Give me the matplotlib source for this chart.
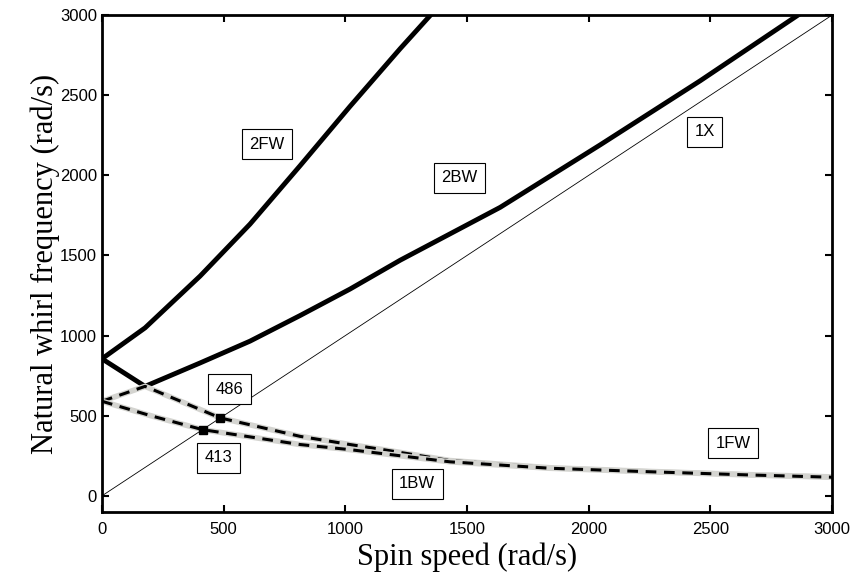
import numpy as np
import matplotlib.pyplot as plt

# spin speed / whirl frequency (rad/s)
s_2fw = [0, 177, 403, 608, 814, 1019, 1225, 1350]
f_2fw = [855, 1048, 1371, 1695, 2060, 2430, 2790, 3000]

s_2bw = [0, 177, 403, 608, 814, 1019, 1225, 1636, 2047, 2458, 2860]
f_2bw = [855, 683, 829, 965, 1125, 1290, 1470, 1800, 2190, 2590, 3000]

s_1fw = [0, 177, 486, 814, 1019, 1156, 1430, 1841, 2252, 2663, 3000]
f_1fw = [590, 683, 486, 371, 320, 288, 220, 175, 152, 132, 118]

s_1bw = [0, 200, 413, 814, 1019, 1430, 1841, 2252, 2663, 3000]
f_1bw = [590, 500, 413, 320, 288, 212, 172, 150, 130, 116]

s_1x = [0, 3000]
f_1x = [0, 3000]

crit_s = [413, 486]
crit_f = [413, 486]

labels = ["2FW", "2BW", "1X", "486", "413", "1FW", "1BW"]
label_s = [678, 1469, 2476, 524, 479, 2593, 1295]
label_f = [2194, 1986, 2272, 664, 237, 327, 75]

plt.rcParams['font.family'] = ['Liberation Sans', 'DejaVu Sans']

fig = plt.figure(figsize=(8.57, 5.79), dpi=100)
ax = fig.add_axes([0.119, 0.116, 0.852, 0.858])

ax.plot(s_2fw, f_2fw, color='black', lw=3.5, solid_joinstyle='round')
ax.plot(s_2bw, f_2bw, color='black', lw=3.5, solid_joinstyle='round')
ax.plot(s_1x, f_1x, color='black', lw=0.6)

# 1FW / 1BW: grey band under black dashes
gray = '#d4d4d0'
for s, f in [(s_1fw, f_1fw), (s_1bw, f_1bw)]:
    ax.plot(s, f, color=gray, lw=4)
    ax.plot(s, f, color='black', lw=2.2, dashes=(3.5, 2.5))

ax.plot(crit_s, crit_f, 's', color='black', ms=6, zorder=5)

for txt, x, y in zip(labels, label_s, label_f):
    ax.text(x, y, txt, ha='center', va='center', fontsize=12,
            bbox=dict(boxstyle='square,pad=0.45', fc='white', ec='black', lw=0.8))

ax.set_xlim(0, 3000)
ax.set_ylim(-100, 3000)
ax.set_xticks(np.arange(0, 3001, 500))
ax.set_yticks(np.arange(0, 3001, 500))
ax.tick_params(direction='in', top=True, right=True, length=5, width=1.5, labelsize=12)
ax.tick_params(axis='x', pad=7)
for sp in ax.spines.values():
    sp.set_linewidth(2)

ax.set_xlabel('Spin speed (rad/s)', family=['Liberation Serif'], fontsize=22, labelpad=4)
ax.set_ylabel('Natural whirl frequency (rad/s)', family=['Liberation Serif'], fontsize=22, labelpad=0)

fig.savefig('out.png', dpi=100)
